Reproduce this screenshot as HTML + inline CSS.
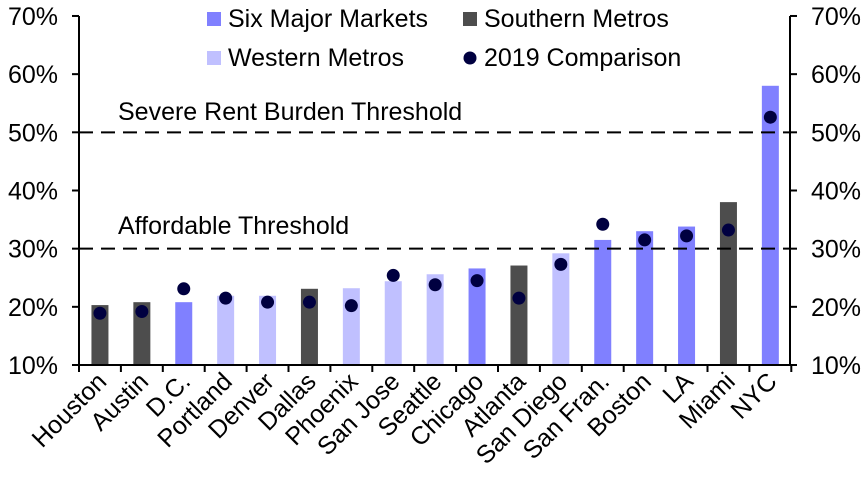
<!DOCTYPE html>
<html><head><meta charset="utf-8"><style>
html,body{margin:0;padding:0;background:#fff;}
svg{display:block;font-family:"Liberation Sans",Arial,sans-serif;}
</style></head><body>
<svg id="c" width="868" height="482" xmlns="http://www.w3.org/2000/svg"></svg>
<script>
var s=document.getElementById('c'),h='';
function y(v){return 365-(v-10)*5.817;}
var X0=79,SP=41.9,FS=25;
var names=["Houston","Austin","D.C.","Portland","Denver","Dallas","Phoenix","San Jose","Seattle","Chicago","Atlanta","San Diego","San Fran.","Boston","LA","Miami","NYC"];
var vals=[20.3,20.8,20.8,21.9,21.9,23.1,23.2,24.4,25.6,26.6,27.1,29.2,31.5,33,33.8,38,58];
var dots=[18.9,19.2,23.1,21.5,20.8,20.8,20.2,25.4,23.8,24.5,21.5,27.3,34.2,31.5,32.2,33.2,52.6];
var typ="SSMWWSWWWMSWMMMSM";
var col={S:"#4d4d4d",M:"#8080ff",W:"#c0c0ff"};
for(var i=0;i<17;i++){var cx=X0+SP*(i+0.5);
h+='<rect x="'+(cx-8.5)+'" y="'+y(vals[i])+'" width="17" height="'+(365-y(vals[i]))+'" fill="'+col[typ[i]]+'"/>';}
h+='<line x1="79" y1="'+y(50)+'" x2="790" y2="'+y(50)+'" stroke="#000" stroke-width="2" stroke-dasharray="14,8"/>';
h+='<line x1="79" y1="'+y(30)+'" x2="790" y2="'+y(30)+'" stroke="#000" stroke-width="2" stroke-dasharray="14,8"/>';
for(var i=0;i<17;i++){var cx=X0+SP*(i+0.5);
h+='<circle cx="'+cx+'" cy="'+y(dots[i])+'" r="6.5" fill="#000040"/>';}
h+='<line x1="79" y1="16" x2="79" y2="366" stroke="#000" stroke-width="2"/>';
h+='<line x1="790" y1="16" x2="790" y2="366" stroke="#000" stroke-width="2"/>';
h+='<line x1="78" y1="365" x2="791" y2="365" stroke="#000" stroke-width="2"/>';
for(var v=10;v<=70;v+=10){var yy=y(v);
h+='<line x1="72" y1="'+yy+'" x2="79" y2="'+yy+'" stroke="#000" stroke-width="2"/>';
h+='<line x1="790" y1="'+yy+'" x2="797" y2="'+yy+'" stroke="#000" stroke-width="2"/>';
h+='<text x="58" y="'+(yy+9)+'" font-size="'+FS+'" text-anchor="end">'+v+'%</text>';
h+='<text x="811" y="'+(yy+9)+'" font-size="'+FS+'">'+v+'%</text>';}
for(var i=0;i<=17;i++){var xx=X0+SP*i;h+='<line x1="'+xx+'" y1="365" x2="'+xx+'" y2="372" stroke="#000" stroke-width="2"/>';}
for(var i=0;i<17;i++){var cx=X0+SP*(i+0.5)+8;
h+='<text transform="translate('+cx+',383) rotate(-45)" font-size="'+FS+'" text-anchor="end">'+names[i]+'</text>';}
h+='<text x="118" y="120" font-size="'+FS+'">Severe Rent Burden Threshold</text>';
h+='<text x="118" y="234" font-size="'+FS+'">Affordable Threshold</text>';
h+='<rect x="207" y="12" width="14" height="14" fill="#8080ff"/><text x="228" y="27" font-size="'+FS+'">Six Major Markets</text>';
h+='<rect x="463" y="12" width="14" height="14" fill="#4d4d4d"/><text x="484" y="27" font-size="'+FS+'">Southern Metros</text>';
h+='<rect x="207" y="51" width="14" height="14" fill="#c0c0ff"/><text x="228" y="66" font-size="'+FS+'">Western Metros</text>';
h+='<circle cx="470" cy="58" r="6.5" fill="#000040"/><text x="484" y="66" font-size="'+FS+'">2019 Comparison</text>';
s.innerHTML=h;
</script>
</body></html>
